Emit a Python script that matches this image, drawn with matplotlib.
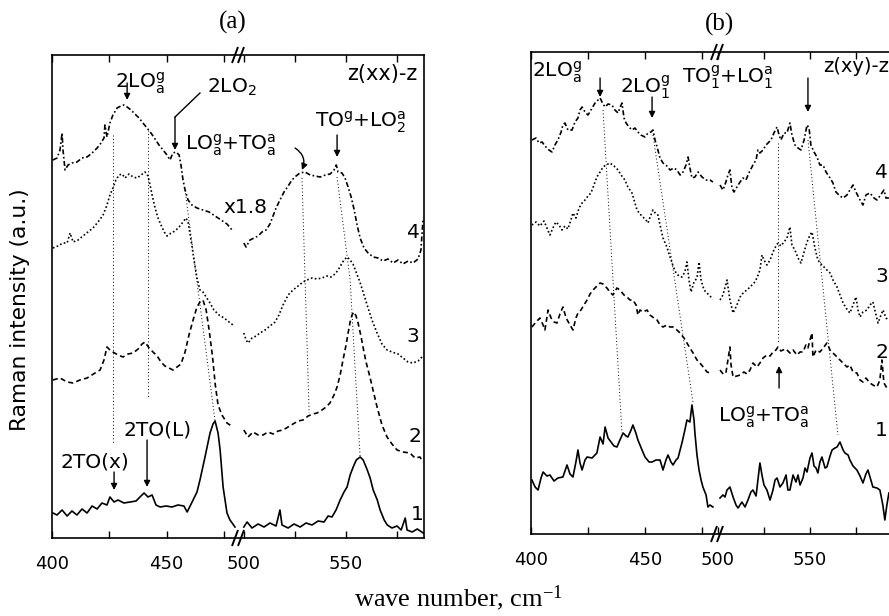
import numpy as np
import matplotlib
matplotlib.use("Agg")
import matplotlib.pyplot as plt

plt.rcParams['font.family'] = ['DejaVu Sans']
plt.rcParams['mathtext.default'] = 'regular'

# ---------------- Panel (a): z(xx)-z ----------------
a1_lo_wn = [400.4, 402.2, 404.4, 406.6, 408.7, 410.9, 413.1, 415.3, 417.5, 419.7, 421.8, 424.0, 425.3, 427.1, 428.8,
            431.4, 434.1, 436.7, 438.4, 440.2, 441.9, 443.7, 445.4, 447.2, 449.8, 452.4, 455.0, 457.6, 459.0, 460.3,
            461.6, 463.3, 464.6, 466.8, 469.0, 470.3, 471.2, 472.5, 473.4, 474.7, 476.4, 477.7, 479.9]
a1_lo_int = [25, 23, 28, 22, 27, 23, 29, 25, 32, 29, 35, 33, 41, 36, 38, 35, 36, 37, 41, 45, 41, 43, 33, 31, 32,
             31, 33, 32, 26, 32, 38, 46, 58, 81, 105, 114, 117, 105, 88, 51, 25, 18, 11]
a1_hi_wn = [499.5, 501.5, 503.9, 506.9, 509.8, 512.7, 515.7, 517.6, 518.6, 521.6, 524.5, 527.5, 530.4, 533.3, 536.3,
            539.2, 541.2, 543.1, 545.1, 547.1, 549.0, 550.5, 552.0, 553.5, 555.0, 556.9, 558.4, 560.4, 561.8, 563.3,
            565.3, 566.7, 568.7, 570.2, 572.5, 575.0, 577.0, 579.0, 579.9, 582.4, 584.9, 587.8]
a1_hi_int = [11, 16, 10, 14, 11, 15, 12, 28, 13, 10, 14, 11, 15, 13, 17, 16, 22, 21, 28, 38, 46, 51, 63, 71, 78,
             81, 78, 68, 60, 48, 38, 28, 18, 13, 10, 12, 8, 20, 8, 6, 9, 5]

a2_lo_wn = [400.4, 403.5, 406.6, 409.2, 412.2, 415.3, 418.8, 421.0, 422.7, 424.0, 425.3, 426.6, 428.8, 431.0, 433.2,
            435.4, 437.6, 439.3, 440.6, 442.4, 444.1, 445.9, 447.6, 449.3, 451.1, 452.8, 454.6, 456.3, 458.1, 459.8,
            461.6, 463.3, 464.6, 465.9, 467.3, 468.6, 470.0, 471.3, 472.5, 474.2, 476.4, 479.0]
a2_lo_int = [158, 160, 156, 155, 158, 160, 165, 168, 178, 191, 188, 186, 183, 181, 184, 185, 189, 194, 196, 190,
             186, 182, 176, 172, 170, 168, 171, 174, 186, 203, 218, 231, 236, 238, 228, 208, 183, 153, 133, 123,
             115, 111]
a2_hi_wn = [499.5, 502.0, 504.4, 506.9, 509.3, 511.8, 514.2, 516.7, 519.1, 521.6, 524.0, 526.5, 528.9, 531.4, 533.8,
            535.8, 538.2, 540.2, 542.1, 544.1, 545.6, 547.1, 548.5, 550.0, 551.0, 552.0, 552.9, 553.9, 554.9, 555.9,
            557.4, 558.3, 559.8, 561.7, 563.2, 565.2, 567.6, 570.1, 572.5, 575.0, 577.9, 581.3, 583.8, 586.2, 587.7]
a2_hi_int = [108, 101, 106, 103, 103, 106, 104, 107, 108, 111, 114, 117, 118, 122, 124, 125, 128, 131, 135, 143,
             151, 163, 178, 193, 205, 216, 223, 226, 222, 215, 201, 191, 176, 161, 148, 131, 113, 101, 94, 88,
             86, 85, 80, 81, 76]

a3_lo_wn = [400.4, 402.6, 404.8, 406.6, 407.9, 409.2, 411.4, 413.5, 415.7, 417.9, 420.1, 422.3, 424.0, 425.3, 426.6,
            427.9, 429.3, 430.6, 431.9, 433.6, 435.4, 437.1, 438.9, 440.6, 441.9, 442.8, 443.7, 445.0, 446.3, 447.6,
            449.0, 450.2, 452.0, 453.7, 455.5, 457.2, 458.5, 459.4, 460.7, 462.0, 463.3, 464.6, 465.9, 467.3, 469.0,
            470.7, 472.9, 475.1, 477.3, 479.0]
a3_lo_int = [290, 292, 295, 295, 305, 296, 298, 302, 306, 310, 316, 323, 333, 343, 350, 358, 363, 364, 360, 364,
             361, 360, 363, 366, 362, 353, 343, 330, 320, 313, 306, 302, 305, 307, 311, 316, 320, 316, 298, 278,
             260, 248, 246, 241, 235, 228, 223, 220, 216, 213]
a3_hi_wn = [499.5, 501.0, 502.0, 503.9, 505.9, 507.8, 510.3, 512.7, 515.2, 517.1, 519.1, 521.6, 524.0, 526.5, 528.9,
            530.9, 533.3, 535.8, 538.2, 540.7, 542.6, 544.6, 546.1, 547.5, 549.0, 550.5, 552.0, 553.4, 554.9, 556.8,
            558.8, 560.8, 562.7, 565.2, 567.6, 570.1, 572.5, 575.5, 577.9, 580.4, 582.8, 585.3, 587.7]
a3_hi_int = [205, 198, 195, 200, 202, 205, 208, 212, 216, 223, 233, 243, 248, 252, 256, 258, 260, 259, 260, 262,
             261, 264, 268, 273, 278, 281, 278, 274, 266, 256, 243, 230, 218, 205, 194, 188, 186, 184, 180, 176,
             175, 177, 182]

a4_lo_wn = [400.4, 402.2, 403.5, 404.4, 404.8, 405.7, 407.0, 408.7, 410.9, 413.1, 415.3, 417.5, 419.7, 421.4, 422.7,
            423.1, 424.0, 425.3, 426.6, 428.4, 430.1, 431.4, 432.8, 434.5, 436.2, 438.0, 439.7, 441.5, 443.2, 445.0,
            446.7, 448.5, 450.2, 451.5, 452.8, 454.2, 455.5, 456.3, 457.2, 458.1, 459.4, 461.1, 463.3, 465.9, 468.6,
            471.2, 473.8, 476.4, 478.6]
a4_lo_int = [378, 380, 388, 405, 388, 368, 373, 375, 376, 380, 381, 385, 390, 395, 400, 413, 401, 415, 423, 430,
             432, 433, 431, 428, 424, 420, 415, 410, 405, 399, 393, 388, 383, 378, 385, 386, 383, 373, 358, 348,
             338, 333, 330, 328, 326, 322, 318, 314, 308]
a4_hi_wn = [499.5, 501.0, 502.9, 504.9, 506.9, 508.8, 510.8, 512.7, 514.2, 515.7, 517.6, 519.6, 521.6, 523.5, 525.5,
            527.4, 529.9, 532.4, 534.8, 537.3, 539.8, 542.2, 544.1, 545.2, 546.1, 548.0, 549.5, 551.0, 552.5, 554.0,
            555.4, 556.9, 558.8, 560.8, 563.3, 565.7, 568.1, 570.6, 573.0, 575.5, 577.9, 580.4, 582.8, 585.3, 586.7,
            587.7]
a4_hi_int = [295, 291, 298, 300, 302, 306, 308, 314, 322, 330, 338, 346, 352, 358, 362, 365, 366, 363, 362, 361,
             363, 364, 368, 373, 366, 365, 360, 351, 341, 328, 313, 300, 290, 285, 281, 280, 277, 279, 275, 278,
             274, 277, 275, 279, 288, 318]

# guide (dotted) lines, panel a
ga_wn = [[426.6, 426.6], [441.9, 441.9], [458.1, 471.2], [528.4, 531.9], [545.6, 552.0, 556.9]]
ga_int = [[403, 95], [408, 140], [348, 117], [360, 125], [361, 258, 81]]

# ---------------- Panel (b): z(xy)-z ----------------
b1_lo_wn = [400.4, 401.8, 403.1, 404.4, 405.3, 407.0, 408.3, 410.1, 411.8, 414.0, 415.8, 417.1, 418.4, 419.7, 420.6,
            421.5, 422.4, 423.7, 424.6, 426.8, 428.9, 430.3, 431.6, 432.5, 433.8, 435.1, 436.4, 437.7, 439.0, 440.4,
            441.7, 442.5, 443.9, 444.7, 446.0, 446.9, 448.7, 450.0, 451.8, 453.1, 454.8, 456.6, 457.9, 459.2, 460.1,
            461.4, 462.3, 463.6, 464.5, 465.4, 466.2, 467.5, 468.4, 469.7, 470.6, 471.5, 471.9, 472.8, 473.7, 474.6,
            475.4, 476.8, 477.6, 478.5, 479.8]
b1_lo_int = [54, 47, 44, 56, 62, 58, 59, 53, 56, 57, 69, 60, 57, 72, 84, 71, 64, 74, 77, 76, 81, 97, 90, 107, 96,
             92, 88, 87, 94, 101, 98, 97, 104, 109, 101, 94, 84, 77, 72, 72, 74, 74, 64, 74, 79, 72, 69, 74, 76, 84,
             91, 104, 114, 112, 129, 114, 101, 79, 64, 54, 47, 39, 27, 29, 27]
b1_hi_wn = [501.1, 502.7, 503.8, 504.9, 506.5, 508.2, 509.8, 510.9, 513.0, 514.7, 516.3, 517.9, 519.0, 520.7, 521.7,
            522.8, 523.9, 525.0, 526.6, 528.3, 529.9, 531.0, 532.1, 533.7, 535.3, 537.0, 538.0, 539.1, 540.8, 542.4,
            543.5, 544.6, 546.2, 547.3, 548.4, 550.0, 551.1, 552.2, 553.3, 554.3, 555.4, 556.5, 558.2, 559.2, 560.9,
            562.0, 563.6, 564.7, 566.3, 568.0, 569.0, 570.7, 571.7, 573.4, 575.5, 577.2, 578.8, 580.4, 581.5, 583.1,
            584.2, 586.4, 588.0, 589.6, 590.7, 591.8, 592.9]
b1_hi_int = [36, 39, 37, 44, 47, 37, 29, 26, 32, 27, 34, 42, 44, 38, 54, 71, 59, 49, 44, 34, 44, 54, 56, 47, 51,
             59, 44, 44, 59, 52, 59, 49, 56, 66, 62, 76, 81, 68, 66, 61, 72, 77, 66, 67, 78, 84, 86, 87, 92, 84,
             81, 79, 74, 68, 64, 58, 51, 60, 64, 54, 47, 46, 44, 29, 14, 29, 41]

b2_lo_wn = [400.4, 402.2, 403.9, 405.3, 406.1, 407.5, 408.8, 410.1, 411.4, 412.7, 414.0, 415.4, 417.1, 418.4, 419.7,
            420.6, 421.9, 423.2, 424.6, 425.9, 427.2, 428.5, 430.3, 431.6, 433.3, 434.6, 435.9, 437.7, 439.0, 440.8,
            442.1, 443.4, 444.7, 446.1, 446.9, 447.8, 449.1, 450.9, 452.2, 453.9, 455.3, 456.6, 457.9, 459.6, 461.0,
            462.3, 464.0, 465.4, 467.1, 468.4, 469.7, 471.1, 472.8, 474.1, 475.9, 477.2, 478.5]
b2_lo_int = [207, 212, 216, 209, 204, 224, 216, 212, 211, 220, 227, 216, 209, 204, 216, 221, 224, 229, 234, 240,
             244, 247, 251, 250, 246, 242, 239, 246, 244, 239, 237, 234, 234, 229, 219, 224, 222, 224, 219, 216,
             214, 209, 207, 209, 207, 207, 204, 201, 196, 191, 186, 181, 174, 171, 166, 162, 161]
b2_hi_wn = [501.1, 502.8, 504.3, 505.4, 506.5, 507.1, 508.2, 510.3, 512.0, 514.1, 515.8, 517.4, 519.0, 521.2, 522.8,
            524.5, 526.6, 528.3, 529.9, 531.5, 532.6, 534.2, 535.3, 537.0, 539.1, 540.8, 542.9, 544.6, 546.2, 547.8,
            548.9, 550.0, 551.1, 551.6, 553.3, 555.4, 557.6, 559.2, 560.9, 562.5, 564.7, 566.3, 568.5, 570.1, 571.7,
            573.4, 575.5, 577.2, 578.8, 580.4, 582.6, 584.2, 586.4, 588.0, 589.1, 590.2, 591.8, 592.9]
b2_hi_int = [164, 160, 161, 174, 187, 169, 157, 158, 159, 162, 160, 164, 171, 167, 171, 176, 179, 178, 182, 184,
             187, 183, 184, 185, 181, 184, 179, 182, 182, 189, 186, 194, 201, 177, 184, 182, 187, 191, 184, 181,
             177, 174, 170, 167, 169, 162, 161, 154, 152, 156, 151, 149, 147, 154, 174, 151, 146, 147]

b3_lo_wn = [400.4, 402.2, 403.9, 405.7, 407.0, 408.3, 409.6, 410.9, 412.3, 413.6, 414.9, 416.2, 417.5, 418.4, 419.7,
            421.1, 422.4, 423.7, 425.0, 426.3, 427.6, 428.9, 430.3, 431.6, 432.9, 434.6, 436.4, 438.2, 439.5, 441.2,
            442.5, 444.3, 445.6, 446.5, 447.8, 449.1, 450.4, 451.3, 452.6, 453.5, 454.8, 455.7, 456.6, 457.9, 459.6,
            461.0, 462.3, 463.6, 464.9, 466.2, 467.5, 468.4, 469.3, 470.2, 471.5, 472.8, 473.7, 474.6, 475.9, 477.6,
            479.8]
b3_lo_int = [309, 312, 308, 313, 306, 299, 306, 312, 309, 304, 308, 305, 314, 321, 316, 326, 331, 334, 338, 341,
             349, 357, 362, 367, 369, 371, 368, 364, 359, 354, 347, 341, 331, 324, 320, 317, 314, 311, 319, 324,
             320, 319, 309, 296, 287, 277, 268, 261, 258, 257, 262, 272, 254, 242, 252, 256, 272, 254, 244, 240,
             235]
b3_hi_wn = [501.1, 502.7, 504.9, 506.5, 508.2, 510.3, 512.0, 514.1, 515.8, 517.4, 519.6, 521.2, 522.8, 523.9, 525.0,
            526.6, 528.3, 529.9, 531.5, 532.6, 534.2, 535.9, 537.5, 539.1, 540.2, 541.8, 543.5, 545.1, 546.8, 548.4,
            550.0, 551.1, 552.7, 554.3, 556.0, 557.6, 559.2, 560.9, 562.5, 564.7, 566.3, 568.0, 569.6, 571.7, 573.4,
            575.0, 576.1, 577.2, 578.8, 581.0, 582.6, 584.2, 585.9, 587.0, 588.6, 589.7, 591.3, 592.9]
b3_hi_int = [234, 239, 254, 234, 221, 229, 237, 242, 244, 247, 251, 256, 264, 279, 274, 269, 274, 282, 288, 291,
             288, 292, 296, 307, 289, 284, 276, 271, 282, 292, 299, 302, 286, 274, 270, 267, 264, 261, 254, 247,
             239, 231, 226, 221, 229, 237, 224, 217, 222, 224, 229, 232, 219, 211, 219, 224, 216, 214]

b4_lo_wn = [400.4, 402.2, 403.5, 404.9, 406.1, 407.9, 409.2, 410.5, 411.8, 413.2, 414.0, 414.9, 416.2, 418.0, 419.3,
            420.6, 421.5, 422.4, 423.7, 425.0, 426.3, 428.1, 429.4, 430.3, 431.6, 432.5, 433.8, 435.5, 436.8, 438.2,
            439.0, 439.9, 440.8, 441.7, 443.0, 444.3, 445.6, 446.9, 448.2, 450.0, 451.3, 452.6, 453.5, 454.4, 455.3,
            456.6, 457.9, 459.6, 461.0, 462.7, 464.0, 465.4, 466.7, 468.0, 468.9, 469.7, 470.6, 471.9, 473.3, 475.0,
            476.8, 478.5, 479.8]
b4_lo_int = [394, 396, 391, 392, 388, 384, 382, 389, 394, 402, 409, 411, 404, 404, 412, 416, 424, 427, 422, 419,
             424, 431, 434, 436, 430, 427, 430, 429, 424, 421, 426, 431, 416, 411, 407, 404, 406, 402, 399, 397,
             401, 402, 404, 394, 387, 376, 371, 368, 364, 366, 364, 359, 362, 369, 377, 366, 356, 357, 362, 357,
             354, 354, 352]
b4_hi_wn = [501.1, 502.7, 504.3, 505.4, 506.5, 507.6, 508.7, 510.3, 512.0, 513.6, 515.2, 516.8, 519.0, 520.7, 521.7,
            522.8, 524.5, 526.1, 527.2, 528.8, 530.4, 532.1, 533.2, 534.2, 535.9, 537.5, 539.1, 540.2, 541.8, 543.5,
            545.1, 546.8, 548.4, 549.5, 550.5, 552.2, 553.8, 555.4, 557.1, 558.7, 560.9, 562.5, 564.1, 566.3, 568.0,
            570.1, 571.7, 573.4, 575.0, 577.2, 578.8, 580.4, 582.6, 584.8, 586.4, 588.0, 590.2, 591.3, 592.9]
b4_hi_int = [349, 344, 352, 359, 364, 346, 342, 347, 352, 356, 354, 361, 369, 374, 384, 381, 384, 389, 391, 394,
             401, 407, 399, 394, 401, 401, 411, 399, 389, 386, 384, 394, 409, 406, 389, 382, 377, 369, 369, 362,
             356, 351, 342, 338, 336, 339, 344, 349, 342, 334, 329, 339, 341, 336, 334, 338, 344, 336, 336]

gb_wn = [[431.6, 439.9], [453.5, 471.1], [532.6, 532.6], [548.9, 565.2]]
gb_int = [[424, 101], [399, 131], [391, 191], [394, 99]]

tick_major = [400, 450, 500, 550]
tick_minor = [425, 475, 525, 575]

# ------------------------------------------------------------
styles = {1: '-', 2: (0, (3, 2)), 3: (0, (1, 1.4)), 4: (0, (3, 1.5, 1, 1.5))}
LW = 1.2
SANS = 14.5

fig = plt.figure(figsize=(8.89, 6.16), dpi=100)
axa = fig.add_axes([52 / 889, 78 / 616, 372 / 889, 483 / 616])
axb = fig.add_axes([531 / 889, 82 / 616, 366 / 889, 482 / 616])


def set_broken_scale(ax, xp, up, xmax, ytop):
    ax.set_xscale('function', functions=(lambda x: np.interp(x, xp, up),
                                         lambda u: np.interp(u, up, xp)))
    ax.set_xlim(400, xmax)
    ax.set_ylim(0, ytop)
    ax.set_xticks(tick_major)
    ax.set_xticks(tick_minor, minor=True)
    ax.set_xticklabels([str(t) for t in tick_major])
    ax.set_yticks([])
    ax.tick_params(axis='x', which='both', direction='in', top=True, bottom=True,
                   length=5, width=1.0, labelsize=13, pad=12)
    for s in ax.spines.values():
        s.set_linewidth(1.2)


def break_marks(ax, frac, wpx, hpx):
    for yb in (0.0, 1.0):
        for c in (-3.0, 3.0):
            ax.plot([frac + (c - 3) / wpx, frac + (c + 3) / wpx],
                    [yb - 8 / hpx, yb + 8 / hpx], transform=ax.transAxes,
                    color='k', lw=1.4, clip_on=False, solid_capstyle='butt')


def arrow(ax, xy, xytext, rad=0.0):
    ax.annotate('', xy=xy, xytext=xytext,
                arrowprops=dict(arrowstyle='-|>', lw=1.0, color='k', mutation_scale=9,
                                shrinkA=0, shrinkB=0, connectionstyle='arc3,rad=%g' % rad))


set_broken_scale(axa, [300, 400, 480, 500, 700], [-229, 0, 183.2, 192, 600], 588.2, 483)
set_broken_scale(axb, [300, 400, 480, 500, 700], [-228, 0, 182.4, 187, 555], 597.3, 482)

# curves panel a
for k, (lw_, li_, hw_, hi_) in {1: (a1_lo_wn, a1_lo_int, a1_hi_wn, a1_hi_int),
                                2: (a2_lo_wn, a2_lo_int, a2_hi_wn, a2_hi_int),
                                3: (a3_lo_wn, a3_lo_int, a3_hi_wn, a3_hi_int),
                                4: (a4_lo_wn, a4_lo_int, a4_hi_wn, a4_hi_int)}.items():
    axa.plot(lw_, li_, color='k', lw=LW, linestyle=styles[k])
    axa.plot(hw_, hi_, color='k', lw=LW, linestyle=styles[k])

for k, (lw_, li_, hw_, hi_) in {1: (b1_lo_wn, b1_lo_int, b1_hi_wn, b1_hi_int),
                                2: (b2_lo_wn, b2_lo_int, b2_hi_wn, b2_hi_int),
                                3: (b3_lo_wn, b3_lo_int, b3_hi_wn, b3_hi_int),
                                4: (b4_lo_wn, b4_lo_int, b4_hi_wn, b4_hi_int)}.items():
    axb.plot(lw_, li_, color='k', lw=LW, linestyle=styles[k])
    axb.plot(hw_, hi_, color='k', lw=LW, linestyle=styles[k])

for gx, gy in zip(ga_wn, ga_int):
    axa.plot(gx, gy, color='k', lw=0.7, linestyle=(0, (1, 2.5)))
for gx, gy in zip(gb_wn, gb_int):
    axb.plot(gx, gy, color='k', lw=0.7, linestyle=(0, (1, 2.5)))

break_marks(axa, 186 / 372, 372, 483)
break_marks(axb, 186 / 366, 366, 482)

# ---- annotations panel a
axa.text(427.5, 450, '2LO$_a^g$', fontsize=SANS, ha='left', va='baseline')
arrow(axa, (432.8, 438), (432.8, 455))
axa.text(467.7, 445, '2LO$_2$', fontsize=SANS, ha='left', va='baseline')
axa.plot([464.6, 453.7], [445, 421], color='k', lw=1.0)
arrow(axa, (453.7, 388), (453.7, 421))
axa.text(458.1, 388, 'LO$_a^g$+TO$_a^a$', fontsize=SANS, ha='left', va='baseline')
arrow(axa, (528.4, 368), (525.0, 390), rad=-0.4)
axa.text(534.8, 411, 'TO$^g$+LO$_2^a$', fontsize=SANS, ha='left', va='baseline')
arrow(axa, (545.6, 381), (545.6, 403))
axa.text(584.8, 458, 'z(xx)-z', fontsize=15, ha='right', va='baseline')
axa.text(474.7, 325, 'x1.8', fontsize=SANS, ha='left', va='baseline')
axa.text(403.5, 71, '2TO(x)', fontsize=SANS, ha='left', va='baseline')
arrow(axa, (427.1, 48), (427.1, 66))
axa.text(431.0, 102, '2TO(L)', fontsize=SANS, ha='left', va='baseline')
arrow(axa, (441.5, 51), (441.5, 98))
for lab, (xx, yy) in {'4': (582.8, 305), '3': (582.8, 201), '2': (583.8, 101), '1': (584.8, 23)}.items():
    axa.text(xx, yy, lab, fontsize=SANS, ha='center', va='center')

# ---- annotations panel b
axb.text(400.5, 457, '2LO$_a^g$', fontsize=SANS, ha='left', va='baseline')
arrow(axb, (430.3, 437), (430.3, 456))
axb.text(439.0, 441, '2LO$_1^g$', fontsize=SANS, ha='left', va='baseline')
arrow(axb, (453.1, 416), (453.1, 437))
axb.text(466.2, 451, 'TO$_1^g$+LO$_1^a$', fontsize=SANS, ha='left', va='baseline')
arrow(axb, (548.9, 422), (548.9, 456))
axb.text(557.0, 462, 'z(xy)-z', fontsize=14, ha='left', va='baseline')
axb.text(500.0, 112, 'LO$_a^g$+TO$_a^a$', fontsize=SANS, ha='left', va='baseline')
arrow(axb, (533.2, 168), (533.2, 146))
for lab, (xx, yy) in {'4': (592.4, 361), '3': (592.4, 257), '2': (592.4, 181), '1': (592.4, 104)}.items():
    axb.text(xx, yy, lab, fontsize=SANS, ha='right', va='center')

# ---- figure texts
fig.text(233 / 889, 1 - 22 / 616, '(a)', family='Liberation Serif', fontsize=18, ha='center', va='center')
fig.text(720 / 889, 1 - 24 / 616, '(b)', family='Liberation Serif', fontsize=18, ha='center', va='center')
fig.text(20 / 889, 1 - 310 / 616, 'Raman intensity (a.u.)', fontsize=15.7, rotation=90,
         ha='center', va='center')
fig.text(459 / 889, 1 - 598 / 616, 'wave number, cm$^{-1}$', family='Liberation Serif', fontsize=19,
         ha='center', va='center')

fig.savefig('out.png', dpi=100)
